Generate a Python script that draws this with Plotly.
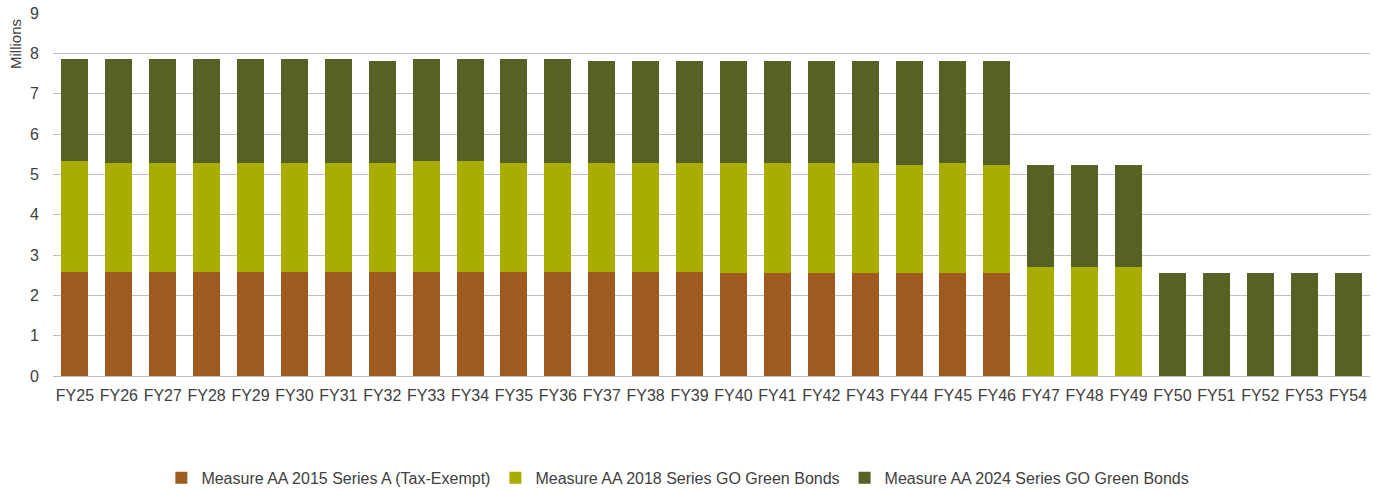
import plotly.graph_objects as go

years = [f"FY{n}" for n in range(25, 55)]

series_names = [
    "Measure AA 2015 Series A (Tax-Exempt)",
    "Measure AA 2018 Series GO Green Bonds",
    "Measure AA 2024 Series GO Green Bonds",
]

# Millions
aa2015 = [2.59] * 15 + [2.55] * 7 + [0] * 8
aa2018 = ([2.73] + [2.70] * 7 + [2.73] * 2 + [2.69] * 5 + [2.73] * 4
          + [2.69, 2.73, 2.69] + [2.70] * 3 + [0] * 5)
aa2024 = ([2.54] + [2.57] * 6 + [2.53] + [2.54] * 2 + [2.58] * 2 + [2.54] * 7
          + [2.58, 2.54, 2.58] + [2.54] * 3 + [2.55] * 5)

colors = ["#9E5A1F", "#A9AD00", "#556224"]
values = [aa2015, aa2018, aa2024]

FONT = "Liberation Sans, Arial, sans-serif"

fig = go.Figure()
for name, vals, col in zip(series_names, values, colors):
    fig.add_trace(go.Bar(
        x=years, y=vals, name=name,
        marker=dict(color=col, line=dict(width=0)),
    ))

fig.update_layout(
    barmode="stack",
    bargap=0.385,
    width=1375, height=490,
    margin=dict(l=53, r=5, t=13, b=114, autoexpand=False),
    paper_bgcolor="white",
    plot_bgcolor="white",
    font=dict(family=FONT, size=16, color="#404040"),
    showlegend=True,
    legend=dict(
        orientation="h",
        xref="container", x=0.493, xanchor="center",
        yref="container", y=0.025, yanchor="middle",
        font=dict(size=16, color="#404040"),
        itemwidth=30,
        traceorder="normal",
    ),
    xaxis=dict(
        showgrid=False,
        showline=True, linecolor="#BFBFBF", linewidth=1,
        ticks="outside", ticklen=5, tickcolor="rgba(0,0,0,0)",
        tickfont=dict(size=16, color="#404040"),
    ),
    yaxis=dict(
        range=[0, 9],
        dtick=1,
        showgrid=True, gridcolor="#BFBFBF", gridwidth=1,
        zeroline=True, zerolinecolor="#BFBFBF", zerolinewidth=1,
        ticks="outside", ticklen=10, tickcolor="rgba(0,0,0,0)",
        tickfont=dict(size=16, color="#404040"),
    ),
    annotations=[dict(
        text="Millions", textangle=-90,
        xref="paper", yref="paper",
        x=-0.028, y=0.915, xanchor="center", yanchor="middle",
        showarrow=False,
        font=dict(size=15, color="#404040", family=FONT),
    )],
)

fig.write_html("out.html")
